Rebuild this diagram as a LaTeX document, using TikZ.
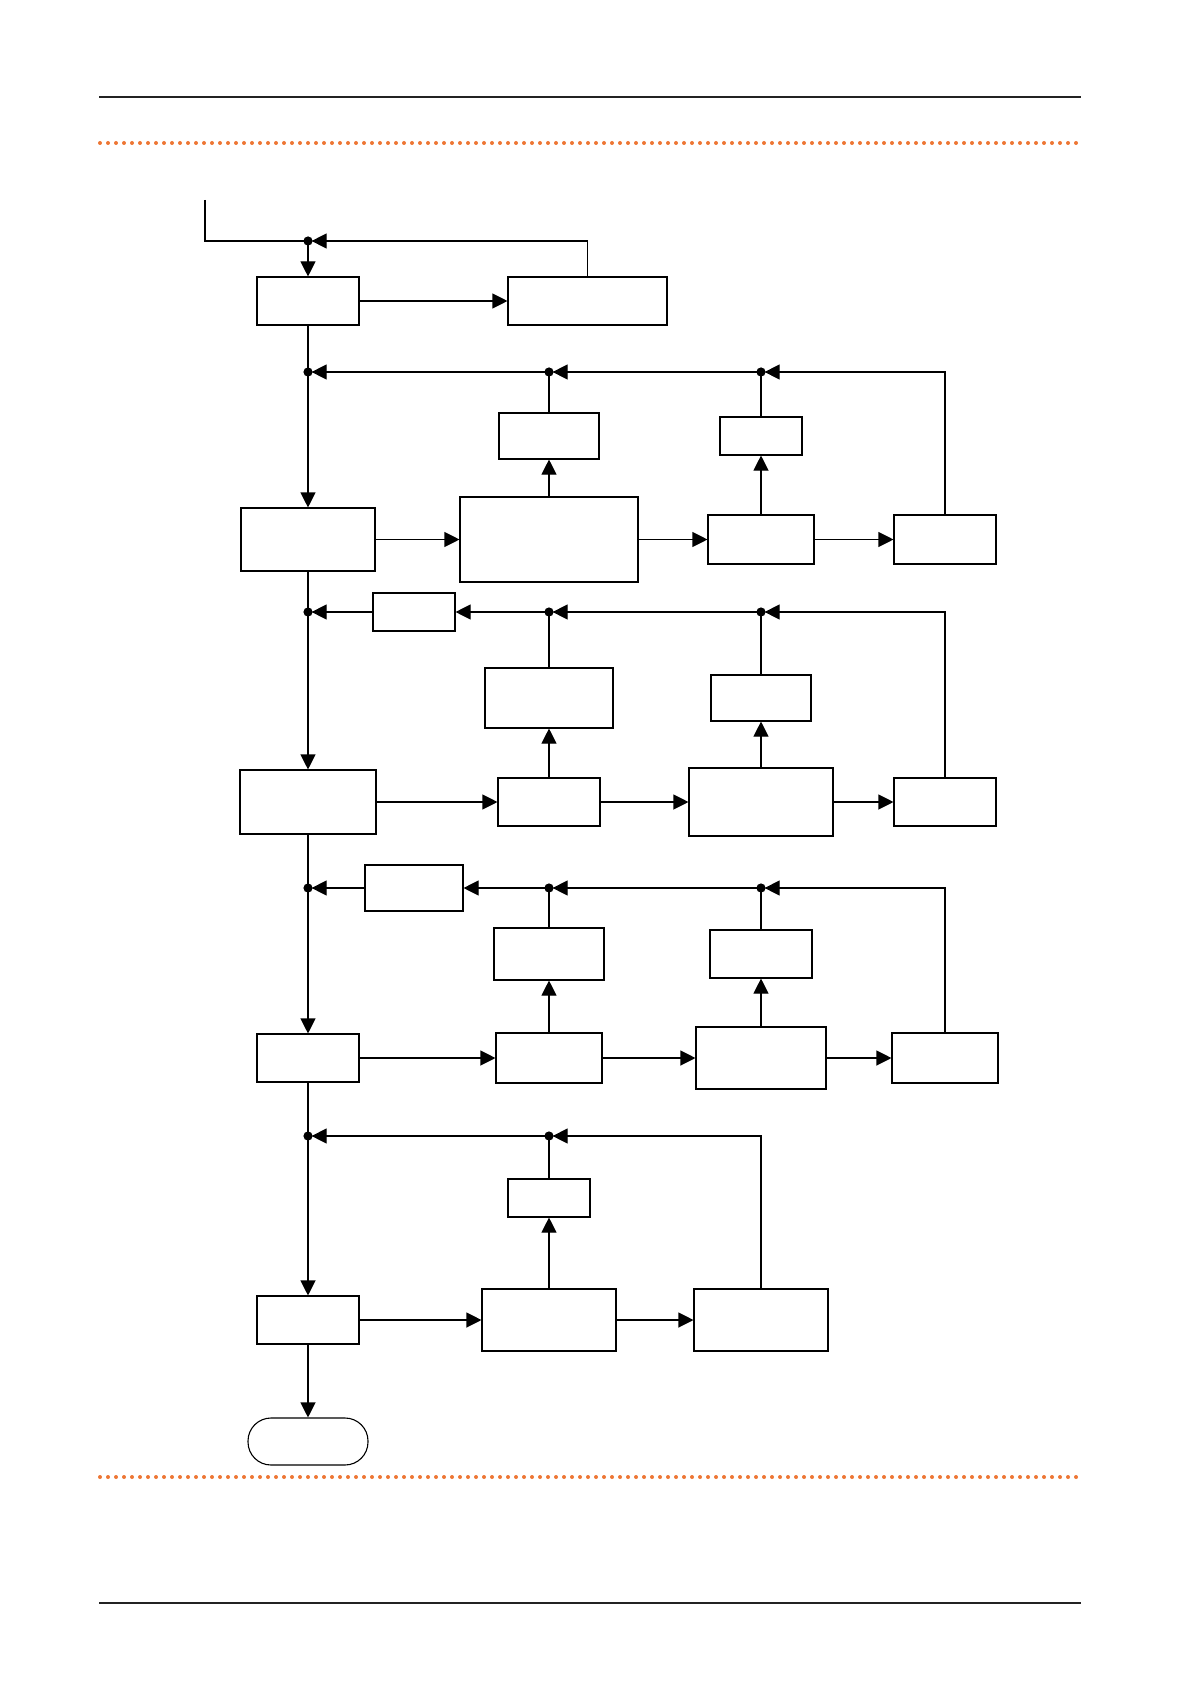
\documentclass[tikz,border=0pt]{standalone}
\usetikzlibrary{arrows.meta,fit}
\definecolor{rulegray}{RGB}{35,35,35}
\definecolor{dotorange}{RGB}{237,118,52}
\tikzset{
  box/.style={draw, line width=0.55pt, inner sep=0pt},
  flow/.style={line width=0.55pt, -{Triangle[length=7.5pt,width=7.5pt]}},
  back/.style={flow, shorten >=1.8pt},
  wire/.style={line width=0.55pt},
  orangedots/.style={dotorange, line width=2pt, line cap=round, dash pattern=on 0pt off 4pt}
}
\begin{document}
\begin{tikzpicture}[x=0.5pt, y=-0.5pt]
          \useasboundingbox (0,0) rectangle (1191,1684);
          \draw[rulegray, line width=0.75pt] (99,97) -- (1081,97);
          \draw[rulegray, line width=0.75pt] (99,1603) -- (1081,1603);
          \draw[orangedots] (100,143) -- (1081,143);
          \draw[orangedots] (100,1477) -- (1081,1477);
          % junctions
          \coordinate (in) at (205,200);
          \coordinate (j0) at (308,241);
          \coordinate (j1) at (308,372);
          \coordinate (j1b) at (549,372);
          \coordinate (j1c) at (761,372);
          \coordinate (j2) at (308,612);
          \coordinate (j2b) at (549,612);
          \coordinate (j2c) at (761,612);
          \coordinate (j3) at (308,888);
          \coordinate (j3b) at (549,888);
          \coordinate (j3c) at (761,888);
          \coordinate (j4) at (308,1136);
          \coordinate (j4b) at (549,1136);
          % boxes
          \node[box, fit={(257,277) (359,325)}] (start) {};
          \node[box, fit={(508,277) (667,325)}] (startr) {};
          \node[box, fit={(241,508) (375,571)}] (a) {};
          \node[box, fit={(460,497) (638,582)}] (ab) {};
          \node[box, fit={(499,413) (599,459)}] (abu) {};
          \node[box, fit={(708,515) (814,564)}] (ac) {};
          \node[box, fit={(720,417) (802,455)}] (acu) {};
          \node[box, fit={(894,515) (996,564)}] (ad) {};
          \node[box, fit={(373,593) (455,631)}] (s2) {};
          \node[box, fit={(240,770) (376,834)}] (c) {};
          \node[box, fit={(498,778) (600,826)}] (cb) {};
          \node[box, fit={(485,668) (613,728)}] (cbu) {};
          \node[box, fit={(689,768) (833,836)}] (cc) {};
          \node[box, fit={(711,675) (811,721)}] (ccu) {};
          \node[box, fit={(894,778) (996,826)}] (cd) {};
          \node[box, fit={(365,865) (463,911)}] (s3) {};
          \node[box, fit={(257,1034) (359,1082)}] (d) {};
          \node[box, fit={(496,1033) (602,1083)}] (db) {};
          \node[box, fit={(494,928) (604,980)}] (dbu) {};
          \node[box, fit={(696,1027) (826,1089)}] (dc) {};
          \node[box, fit={(710,930) (812,978)}] (dcu) {};
          \node[box, fit={(892,1033) (998,1083)}] (dd) {};
          \node[box, fit={(257,1296) (359,1344)}] (e) {};
          \node[box, fit={(482,1289) (616,1351)}] (eb) {};
          \node[box, fit={(508,1179) (590,1217)}] (ebu) {};
          \node[box, fit={(694,1289) (828,1351)}] (ec) {};
          \node[box, rounded corners=11.5pt, fit={(248,1418) (368,1465)}] (stop) {};
          % top
          \draw[wire] (in) |- (j0);
          \draw[back] (startr.north) |- (j0);
          \draw[flow] (j0) -- (start.north);
          \draw[flow] (start.east) -- (startr.west);
          \draw[wire] (start.south) -- (j1);
          % row 1
          \draw[flow] (a.east) -- (ab.west);
          \draw[flow] (ab.east) -- (ac.west);
          \draw[flow] (ac.east) -- (ad.west);
          \draw[flow] (ab.north) -- (abu.south);
          \draw[flow] (ac.north) -- (acu.south);
          \draw[wire] (abu.north) -- (j1b);
          \draw[wire] (acu.north) -- (j1c);
          \draw[back] (ad.north) |- (j1c);
          \draw[back] (j1c) -- (j1b);
          \draw[back] (j1b) -- (j1);
          \draw[flow] (j1) -- (a.north);
          \draw[wire] (a.south) -- (j2);
          % row 2
          \draw[flow] (c.east) -- (cb.west);
          \draw[flow] (cb.east) -- (cc.west);
          \draw[flow] (cc.east) -- (cd.west);
          \draw[flow] (cb.north) -- (cbu.south);
          \draw[flow] (cc.north) -- (ccu.south);
          \draw[wire] (cbu.north) -- (j2b);
          \draw[wire] (ccu.north) -- (j2c);
          \draw[back] (cd.north) |- (j2c);
          \draw[back] (j2c) -- (j2b);
          \draw[flow] (j2b) -- (s2.east);
          \draw[back] (s2.west) -- (j2);
          \draw[flow] (j2) -- (c.north);
          \draw[wire] (c.south) -- (j3);
          % row 3
          \draw[flow] (d.east) -- (db.west);
          \draw[flow] (db.east) -- (dc.west);
          \draw[flow] (dc.east) -- (dd.west);
          \draw[flow] (db.north) -- (dbu.south);
          \draw[flow] (dc.north) -- (dcu.south);
          \draw[wire] (dbu.north) -- (j3b);
          \draw[wire] (dcu.north) -- (j3c);
          \draw[back] (dd.north) |- (j3c);
          \draw[back] (j3c) -- (j3b);
          \draw[flow] (j3b) -- (s3.east);
          \draw[back] (s3.west) -- (j3);
          \draw[flow] (j3) -- (d.north);
          \draw[wire] (d.south) -- (j4);
          % row 4
          \draw[flow] (e.east) -- (eb.west);
          \draw[flow] (eb.east) -- (ec.west);
          \draw[flow] (eb.north) -- (ebu.south);
          \draw[wire] (ebu.north) -- (j4b);
          \draw[back] (ec.north) |- (j4b);
          \draw[back] (j4b) -- (j4);
          \draw[flow] (j4) -- (e.north);
          \draw[flow] (e.south) -- (stop.north);
          \foreach \j in {j0,j1,j1b,j1c,j2,j2b,j2c,j3,j3b,j3c,j4,j4b}
            \fill (\j) circle (2.3pt);
        \end{tikzpicture}
\end{document}
